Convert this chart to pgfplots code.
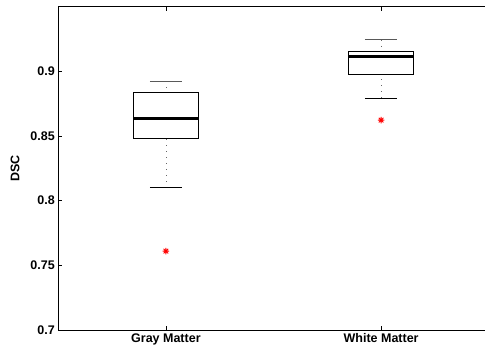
\documentclass[border=0pt]{standalone}
\usepackage{fontspec}
\setmainfont{Liberation Sans}
\usepackage{pgfplots}
\pgfplotsset{compat=1.18}
\usepgfplotslibrary{statistics}
\pgfdeclareplotmark{star8}{%
  \pgfpathmoveto{\pgfqpoint{-\pgfplotmarksize}{0pt}}%
  \pgfpathlineto{\pgfqpoint{\pgfplotmarksize}{0pt}}%
  \pgfpathmoveto{\pgfqpoint{0pt}{-\pgfplotmarksize}}%
  \pgfpathlineto{\pgfqpoint{0pt}{\pgfplotmarksize}}%
  \pgfpathmoveto{\pgfqpoint{-0.7\pgfplotmarksize}{-0.7\pgfplotmarksize}}%
  \pgfpathlineto{\pgfqpoint{0.7\pgfplotmarksize}{0.7\pgfplotmarksize}}%
  \pgfpathmoveto{\pgfqpoint{-0.7\pgfplotmarksize}{0.7\pgfplotmarksize}}%
  \pgfpathlineto{\pgfqpoint{0.7\pgfplotmarksize}{-0.7\pgfplotmarksize}}%
  \pgfusepathqstroke}
\begin{document}
\begin{tikzpicture}
\begin{axis}[
  scale only axis,
  width=430.4pt, height=323.3pt,
  xmin=0.5, xmax=2.5,
  ymin=0.7, ymax=0.95,
  xtick={1,2},
  xticklabels={Gray Matter, White Matter},
  ytick={0.7,0.75,0.8,0.85,0.9},
  tick align=inside,
  major tick length=4pt,
  axis line style={line width=0.9pt},
  tick style={black, line width=0.5pt},
  /pgf/number format/assume math mode=true,
  ticklabel style={font=\fontsize{12.5}{14}\selectfont\bfseries},
  yticklabel style={/pgf/number format/fixed},
  ylabel={DSC},
  every axis y label/.style={at={(axis description cs:0,0.5)}, xshift=-43.3pt, anchor=center, rotate=90, font=\fontsize{12.5}{14}\selectfont\bfseries},
  boxplot/draw direction=y,
  boxplot/box extend=0.3,
  boxplot/whisker extend=0.15,
  boxplot/draw/lower whisker/.code={%
    \draw[gray!80!black, line width=0.6pt, dash pattern=on 0.6pt off 5.4pt]
      (boxplot box cs:\pgfplotsboxplotvalue{lower whisker},0.5) --
      (boxplot box cs:\pgfplotsboxplotvalue{lower quartile},0.5);
    \draw[black, line width=0.9pt]
      (boxplot whisker cs:\pgfplotsboxplotvalue{lower whisker},0) --
      (boxplot whisker cs:\pgfplotsboxplotvalue{lower whisker},1);
  },
  boxplot/draw/upper whisker/.code={%
    \draw[gray!80!black, line width=0.6pt, dash pattern=on 0.6pt off 5.4pt]
      (boxplot box cs:\pgfplotsboxplotvalue{upper whisker},0.5) --
      (boxplot box cs:\pgfplotsboxplotvalue{upper quartile},0.5);
    \draw[black!65, line width=1.1pt]
      (boxplot whisker cs:\pgfplotsboxplotvalue{upper whisker},0) --
      (boxplot whisker cs:\pgfplotsboxplotvalue{upper whisker},1);
  },
  boxplot/every box/.style={draw=black, line width=0.9pt},
  boxplot/every median/.style={line width=3.5pt, black},
]
\addplot+[boxplot prepared={draw position=1,
    lower whisker=0.8103, lower quartile=0.8482, median=0.8636,
    upper quartile=0.8835, upper whisker=0.8925},
  black, solid, mark=star8, mark size=3.3pt,
  every mark/.append style={red, line width=0.9pt}]
  coordinates {(0,0.761)};
\addplot+[boxplot prepared={draw position=2,
    lower whisker=0.8794, lower quartile=0.8979, median=0.9116,
    upper quartile=0.9152, upper whisker=0.9244},
  black, solid, mark=star8, mark size=3.3pt,
  every mark/.append style={red, line width=0.9pt}]
  coordinates {(0,0.8623)};
\end{axis}
\pgfresetboundingbox
\path[use as bounding box] (current axis.south west) ++(-58.3pt,-22pt) rectangle ++(485pt,352pt);
\end{tikzpicture}
\end{document}
